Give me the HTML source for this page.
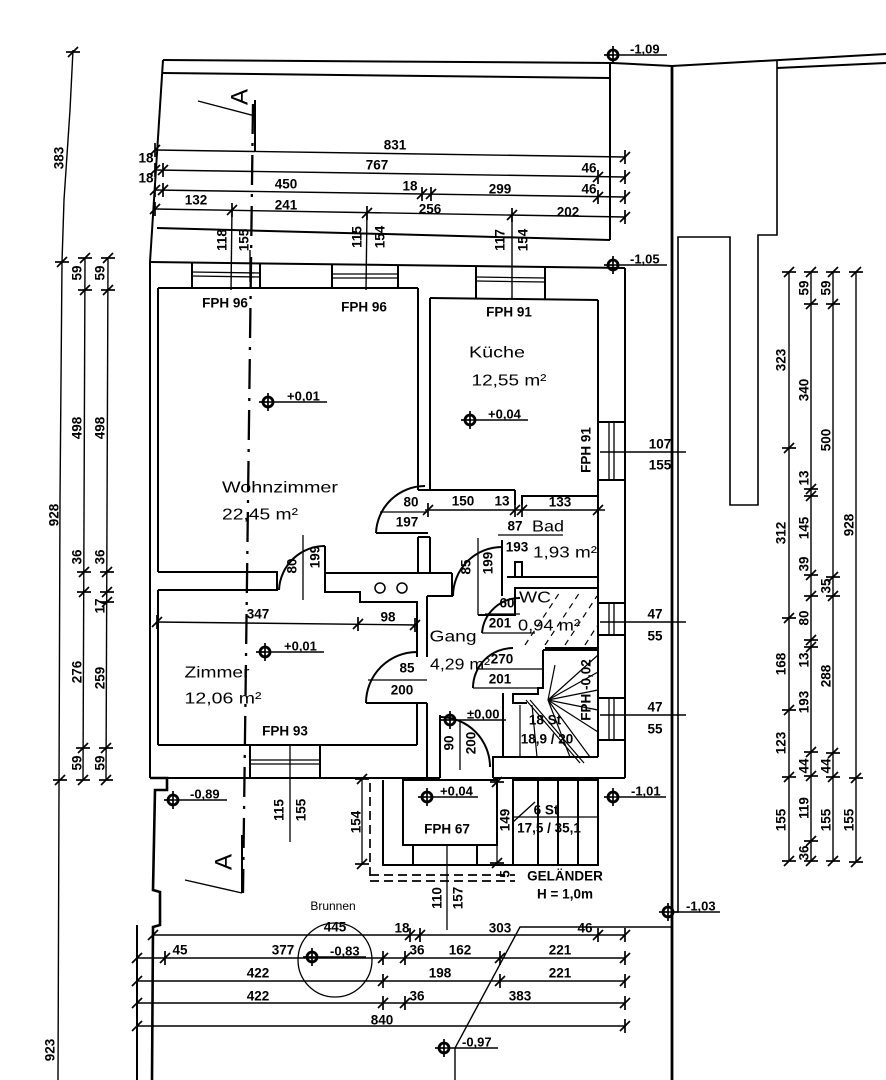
<!DOCTYPE html>
<html><head><meta charset="utf-8">
<style>
html,body{margin:0;padding:0;background:#fff;}
svg{display:block;}
text{font-family:"Liberation Sans",Arial,sans-serif;fill:#000;stroke:none;dominant-baseline:central;text-anchor:middle;}
.d{font-size:13.5px;font-weight:bold;}
.e{font-size:13px;font-weight:bold;text-anchor:start;}
.r{font-size:16px;}
.s{font-size:12px;}
</style></head><body>
<svg width="886" height="1080" viewBox="0 0 886 1080" xmlns="http://www.w3.org/2000/svg">
<rect width="886" height="1080" fill="#fff"/>
<defs>
<g id="tv" stroke="#000" stroke-width="1.7"><line x1="0" y1="-7" x2="0" y2="7"/><line x1="-5" y1="5" x2="5" y2="-5"/></g>
<g id="th" stroke="#000" stroke-width="1.7"><line x1="-7" y1="0" x2="7" y2="0"/><line x1="-5" y1="5" x2="5" y2="-5"/></g>
<g id="el" stroke="#000"><circle r="5" fill="none" stroke-width="2.8"/><line x1="0" y1="-9" x2="0" y2="9" stroke-width="1.7"/><line x1="-9" y1="0" x2="0" y2="0" stroke-width="1.7"/></g>
</defs>

<g fill="none" stroke="#000" stroke-width="2">
<!-- plot / surroundings -->
<polyline points="163,60 613,63 672,66 886,54"/>
<line x1="163" y1="60" x2="150" y2="262"/>
<line x1="163" y1="73" x2="610" y2="78"/>
<line x1="610" y1="63" x2="610" y2="240"/>
<line x1="157" y1="228" x2="610" y2="240"/>
<line x1="672" y1="66" x2="672" y2="1080" stroke-width="2.8"/>
<polyline points="673,912 678,912 678,237 730,237 730,505 758,505 758,235 777,235 777,60" stroke-width="1.6"/>
<line x1="777" y1="68" x2="886" y2="63"/>
<polyline points="150,778 167,778 167,790 155,790 153,890 160,892 160,925 153,927 152,1080" stroke-width="2.6"/>
<line x1="137" y1="925" x2="137" y2="1080"/>
<polyline points="672,927 520,927 455,1048 455,1080" stroke-width="1.4"/>

<!-- building outer -->
<line x1="150" y1="262" x2="625" y2="268"/>
<line x1="150" y1="262" x2="150" y2="778"/>
<line x1="625" y1="268" x2="625" y2="778"/>
<line x1="150" y1="778" x2="440" y2="778"/>
<line x1="493" y1="778" x2="625" y2="778"/>
<!-- top wall inner and window openings -->
<line x1="158" y1="288" x2="418" y2="288"/>
<line x1="430" y1="298" x2="598" y2="300"/>
<line x1="192" y1="263" x2="192" y2="288"/><line x1="260" y1="264" x2="260" y2="288"/>
<line x1="332" y1="265" x2="332" y2="288"/><line x1="398" y1="265" x2="398" y2="288"/>
<line x1="476" y1="266" x2="476" y2="299"/><line x1="545" y1="267" x2="545" y2="300"/>
<g stroke-width="1.3">
<line x1="192" y1="272" x2="260" y2="273"/><line x1="192" y1="276" x2="260" y2="277"/>
<line x1="332" y1="274" x2="398" y2="274"/><line x1="332" y1="278" x2="398" y2="278"/>
<line x1="476" y1="277" x2="545" y2="278"/><line x1="476" y1="281" x2="545" y2="282"/>
</g>
<!-- left inner wall -->
<line x1="158" y1="288" x2="158" y2="572"/>
<line x1="158" y1="590" x2="158" y2="745"/>
<!-- Wohnzimmer / Kueche wall -->
<line x1="418" y1="288" x2="418" y2="490"/>
<line x1="430" y1="298" x2="430" y2="490"/>
<line x1="418" y1="490" x2="430" y2="490"/>
<line x1="418" y1="537" x2="430" y2="537"/>
<line x1="418" y1="537" x2="418" y2="573"/>
<line x1="430" y1="537" x2="430" y2="573"/>
<!-- door 80/197 -->
<path d="M376,533 A49,49 0 0 1 425,486"/>
<line x1="376" y1="533" x2="428" y2="533"/>
<line x1="380" y1="512" x2="428" y2="512" stroke-width="1.3"/>
<!-- Wohnzimmer bottom wall + door -->
<polyline points="158,572 277,572 277,590 158,590"/>
<path d="M279,590 A46,46 0 0 1 325,546"/>
<line x1="325" y1="546" x2="325" y2="573"/>
<polyline points="325,573 452,573"/>
<polyline points="325,573 325,592 360,592 360,602 417,602 417,657"/>
<circle cx="380" cy="588" r="5" stroke-width="1.5"/>
<circle cx="402" cy="588" r="5" stroke-width="1.5"/>
<line x1="303" y1="535" x2="303" y2="600" stroke-width="1.3"/>
<!-- Zimmer -->
<line x1="158" y1="745" x2="417" y2="745"/>
<line x1="417" y1="703" x2="417" y2="745"/>
<line x1="250" y1="745" x2="250" y2="778"/><line x1="320" y1="745" x2="320" y2="778"/>
<line x1="250" y1="760" x2="320" y2="760" stroke-width="1.3"/><line x1="250" y1="764" x2="320" y2="764" stroke-width="1.3"/>
<line x1="290" y1="745" x2="290" y2="842" stroke-width="1.3"/>
<!-- door 85/200 Zimmer -->
<path d="M366,703 A51,51 0 0 1 417,652"/>
<line x1="366" y1="703" x2="427" y2="703"/>
<line x1="368" y1="680" x2="427" y2="680" stroke-width="1.3"/>
<!-- Gang -->
<line x1="427" y1="596" x2="427" y2="657"/>
<line x1="427" y1="703" x2="427" y2="778"/>
<line x1="427" y1="596" x2="453" y2="596"/>
<line x1="452" y1="573" x2="452" y2="596"/>
<!-- door to Bad 85/199 -->
<path d="M453,596 A49,49 0 0 1 502,547"/>
<line x1="502" y1="540" x2="502" y2="596"/>
<line x1="478" y1="538" x2="478" y2="615" stroke-width="1.3"/>
<!-- Kueche bottom / Bad -->
<line x1="430" y1="490" x2="515" y2="490"/>
<line x1="515" y1="490" x2="515" y2="505"/>
<polyline points="522,505 522,496 598,496"/>
<line x1="598" y1="300" x2="598" y2="757"/>
<line x1="598" y1="422" x2="625" y2="422"/><line x1="598" y1="480" x2="625" y2="480"/>
<line x1="609" y1="422" x2="609" y2="480" stroke-width="1.3"/><line x1="614" y1="422" x2="614" y2="480" stroke-width="1.3"/>
<line x1="498" y1="535" x2="563" y2="535" stroke-width="1.3"/>
<polyline points="507,577 598,577"/>
<polyline points="515,577 515,562 522,562 522,577"/>
<!-- right windows -->
<line x1="598" y1="603" x2="625" y2="603"/><line x1="598" y1="635" x2="625" y2="635"/>
<line x1="609" y1="603" x2="609" y2="635" stroke-width="1.3"/><line x1="614" y1="603" x2="614" y2="635" stroke-width="1.3"/>
<line x1="598" y1="698" x2="625" y2="698"/><line x1="598" y1="740" x2="625" y2="740"/>
<line x1="609" y1="698" x2="609" y2="740" stroke-width="1.3"/><line x1="614" y1="698" x2="614" y2="740" stroke-width="1.3"/>
<!-- WC -->
<polyline points="478,615 515,615 515,588 598,588"/>
<line x1="545" y1="648" x2="598" y2="648"/>
<path d="M482,633 A38,38 0 0 1 520,598"/>
<line x1="482" y1="633" x2="535" y2="633" stroke-width="1.3"/>
<line x1="485" y1="614" x2="520" y2="614" stroke-width="1.3"/>
<g stroke-width="1.2" stroke-dasharray="6 5">
<line x1="525" y1="645" x2="560" y2="592"/><line x1="545" y1="645" x2="580" y2="592"/>
<line x1="565" y1="645" x2="597" y2="596"/><line x1="585" y1="645" x2="597" y2="626"/>
</g>
<!-- stairs internal -->
<polyline points="543,650 598,650"/>
<polyline points="543,650 543,688 538,688 538,694 513,694 513,703 527,703"/>
<path d="M473,688 A40,40 0 0 1 513,648"/>
<line x1="473" y1="688" x2="538" y2="688" stroke-width="1.3"/>
<line x1="478" y1="669" x2="543" y2="669" stroke-width="1.3"/>
<g stroke-width="1.2">
<line x1="548" y1="700" x2="598" y2="655"/><line x1="548" y1="700" x2="598" y2="672"/>
<line x1="548" y1="700" x2="598" y2="690"/><line x1="548" y1="700" x2="598" y2="710"/>
<line x1="548" y1="700" x2="598" y2="732"/><line x1="548" y1="700" x2="590" y2="757"/>
<line x1="548" y1="700" x2="570" y2="757"/><line x1="548" y1="700" x2="555" y2="665"/>
<line x1="520" y1="705" x2="520" y2="757"/><line x1="532" y1="705" x2="537" y2="757"/>
<line x1="526" y1="700" x2="580" y2="763"/><line x1="530" y1="700" x2="584" y2="763"/>
</g>
<line x1="503" y1="693" x2="503" y2="757"/>
<polyline points="493,778 493,757 598,757"/>
<!-- entrance door 90/200 -->
<line x1="440" y1="715" x2="440" y2="778"/>
<path d="M440,717 A50,50 0 0 1 490,767"/>
<line x1="460" y1="720" x2="460" y2="770" stroke-width="1.3"/>
<!-- vestibule & outer stair -->
<rect x="403" y="780" width="94" height="65"/>
<line x1="413" y1="845" x2="413" y2="865"/><line x1="477" y1="845" x2="477" y2="865"/>
<line x1="447" y1="845" x2="447" y2="930" stroke-width="1.3"/>
<polyline points="383,780 383,865 513,865"/>
<rect x="513" y="780" width="85" height="85"/>
<line x1="538" y1="780" x2="538" y2="865"/><line x1="558" y1="780" x2="558" y2="865"/><line x1="578" y1="780" x2="578" y2="865"/>
<line x1="513" y1="817" x2="598" y2="817" stroke-width="1.3"/>
<line x1="513" y1="822" x2="535" y2="802" stroke-width="1.3"/>
<line x1="497" y1="780" x2="497" y2="865" stroke-width="1.3"/>
<g stroke-width="1.7" stroke-dasharray="9 5">
<line x1="370" y1="783" x2="370" y2="881"/>
<line x1="370" y1="875" x2="515" y2="875"/><line x1="370" y1="881" x2="515" y2="881"/>
</g>
<line x1="362" y1="778" x2="362" y2="865" stroke-width="1.3"/>

<!-- section line A-A -->
<polyline points="253,104 247,580 243,893" stroke-width="2.3" stroke-dasharray="30 9 3 9"/>
<line x1="198" y1="101" x2="255" y2="116" stroke-width="1.4"/>
<line x1="255" y1="100" x2="255" y2="152"/>
<line x1="185" y1="880" x2="242" y2="893" stroke-width="1.4"/>
<line x1="242" y1="835" x2="242" y2="893"/>

<!-- Brunnen -->
<circle cx="335" cy="960" r="37" stroke-width="1.3"/>
</g>

<!-- dimension lines -->
<g fill="none" stroke="#000" stroke-width="1.4">
<line x1="155" y1="150" x2="625" y2="157"/>
<line x1="155" y1="170" x2="625" y2="177"/>
<line x1="155" y1="190" x2="625" y2="197"/>
<line x1="155" y1="209" x2="625" y2="217"/>
<line x1="232" y1="209" x2="231" y2="290"/>
<line x1="367" y1="211" x2="366" y2="290"/>
<line x1="512" y1="214" x2="512" y2="300"/>
<line x1="250" y1="250" x2="250" y2="282"/>
<!-- left -->
<polyline points="73,50 70,110 64,200 62,262 60,500 58,1080"/>
<line x1="85" y1="258" x2="83" y2="780"/>
<line x1="108" y1="258" x2="106" y2="780"/>
<!-- right -->
<line x1="789" y1="272" x2="789" y2="861"/>
<line x1="811" y1="272" x2="811" y2="861"/>
<line x1="833" y1="272" x2="833" y2="861"/>
<line x1="856" y1="272" x2="856" y2="862"/>
<line x1="600" y1="452" x2="686" y2="452"/>
<line x1="600" y1="622" x2="686" y2="622"/>
<line x1="600" y1="715" x2="686" y2="715"/>
<!-- bottom -->
<line x1="153" y1="935" x2="625" y2="935"/>
<line x1="137" y1="958" x2="625" y2="958"/>
<line x1="137" y1="981" x2="625" y2="981"/>
<line x1="137" y1="1003" x2="625" y2="1003"/>
<line x1="137" y1="1026" x2="625" y2="1026"/>
<line x1="157" y1="622" x2="417" y2="625"/>
<line x1="425" y1="510" x2="605" y2="510"/>
</g>

<!-- ticks -->
<g>
<use href="#tv" x="155" y="150"/><use href="#tv" x="625" y="157"/>
<use href="#tv" x="155" y="170"/><use href="#tv" x="163" y="170"/><use href="#tv" x="598" y="177"/><use href="#tv" x="625" y="177"/>
<use href="#tv" x="155" y="190"/><use href="#tv" x="163" y="190"/><use href="#tv" x="422" y="194"/><use href="#tv" x="431" y="194"/><use href="#tv" x="598" y="197"/><use href="#tv" x="625" y="197"/>
<use href="#tv" x="155" y="209"/><use href="#tv" x="232" y="210"/><use href="#tv" x="367" y="213"/><use href="#tv" x="512" y="215"/><use href="#tv" x="625" y="217"/>
<use href="#th" x="73" y="52"/><use href="#th" x="62" y="262"/><use href="#th" x="60" y="780"/>
<use href="#th" x="85" y="258"/><use href="#th" x="85" y="290"/><use href="#th" x="84" y="572"/><use href="#th" x="84" y="592"/><use href="#th" x="83" y="748"/><use href="#th" x="83" y="780"/>
<use href="#th" x="108" y="258"/><use href="#th" x="108" y="290"/><use href="#th" x="107" y="572"/><use href="#th" x="107" y="592"/><use href="#th" x="107" y="602"/><use href="#th" x="106" y="748"/><use href="#th" x="106" y="780"/>
<use href="#th" x="789" y="272"/><use href="#th" x="789" y="448"/><use href="#th" x="789" y="618"/><use href="#th" x="789" y="710"/><use href="#th" x="789" y="777"/><use href="#th" x="789" y="861"/>
<use href="#th" x="811" y="272"/><use href="#th" x="811" y="304"/><use href="#th" x="811" y="489"/><use href="#th" x="811" y="496"/><use href="#th" x="811" y="575"/><use href="#th" x="811" y="596"/><use href="#th" x="811" y="640"/><use href="#th" x="811" y="647"/><use href="#th" x="811" y="752"/><use href="#th" x="811" y="776"/><use href="#th" x="811" y="841"/><use href="#th" x="811" y="861"/>
<use href="#th" x="833" y="272"/><use href="#th" x="833" y="304"/><use href="#th" x="833" y="577"/><use href="#th" x="833" y="596"/><use href="#th" x="833" y="753"/><use href="#th" x="833" y="777"/><use href="#th" x="833" y="861"/>
<use href="#th" x="856" y="272"/><use href="#th" x="856" y="778"/><use href="#th" x="856" y="862"/>
<use href="#tv" x="153" y="935"/><use href="#tv" x="410" y="935"/><use href="#tv" x="420" y="935"/><use href="#tv" x="598" y="935"/><use href="#tv" x="625" y="935"/>
<use href="#tv" x="137" y="958"/><use href="#tv" x="165" y="958"/><use href="#tv" x="383" y="958"/><use href="#tv" x="405" y="958"/><use href="#tv" x="500" y="958"/><use href="#tv" x="625" y="958"/>
<use href="#tv" x="137" y="981"/><use href="#tv" x="383" y="981"/><use href="#tv" x="500" y="981"/><use href="#tv" x="625" y="981"/>
<use href="#tv" x="137" y="1003"/><use href="#tv" x="383" y="1003"/><use href="#tv" x="405" y="1003"/><use href="#tv" x="625" y="1003"/>
<use href="#tv" x="137" y="1026"/><use href="#tv" x="625" y="1026"/>
<use href="#tv" x="157" y="622"/><use href="#tv" x="358" y="624"/><use href="#tv" x="415" y="625"/>
<use href="#tv" x="428" y="510"/><use href="#tv" x="515" y="510"/><use href="#tv" x="522" y="510"/><use href="#tv" x="598" y="510"/>
<use href="#th" x="362" y="779"/><use href="#th" x="362" y="864"/>
<use href="#th" x="497" y="782"/><use href="#th" x="497" y="863"/>
</g>

<!-- elevation markers -->
<g stroke="#000" stroke-width="1.5">
<use href="#el" x="613" y="55"/><line x1="613" y1="55" x2="667" y2="55"/>
<use href="#el" x="613" y="265"/><line x1="613" y1="265" x2="667" y2="265"/>
<use href="#el" x="268" y="402"/><line x1="268" y1="402" x2="327" y2="402"/>
<use href="#el" x="470" y="420"/><line x1="470" y1="420" x2="528" y2="420"/>
<use href="#el" x="265" y="652"/><line x1="265" y1="652" x2="324" y2="652"/>
<use href="#el" x="173" y="800"/><line x1="173" y1="800" x2="227" y2="800"/>
<use href="#el" x="427" y="797"/><line x1="427" y1="797" x2="478" y2="797"/>
<use href="#el" x="450" y="720"/><line x1="450" y1="720" x2="506" y2="720"/>
<use href="#el" x="613" y="797"/><line x1="613" y1="797" x2="666" y2="797"/>
<use href="#el" x="668" y="912"/><line x1="668" y1="912" x2="720" y2="912"/>
<use href="#el" x="312" y="957"/><line x1="312" y1="957" x2="366" y2="957"/>
<use href="#el" x="444" y="1048"/><line x1="444" y1="1048" x2="498" y2="1048"/>
</g>
<g class="e">
<text class="e" x="630" y="49">-1,09</text>
<text class="e" x="630" y="259">-1,05</text>
<text class="e" x="287" y="396">+0,01</text>
<text class="e" x="488" y="414">+0,04</text>
<text class="e" x="284" y="646">+0,01</text>
<text class="e" x="190" y="794">-0,89</text>
<text class="e" x="440" y="791">+0,04</text>
<text class="e" x="467" y="714">±0,00</text>
<text class="e" x="631" y="791">-1,01</text>
<text class="e" x="686" y="906">-1,03</text>
<text class="e" x="330" y="951">-0,83</text>
<text class="e" x="462" y="1042">-0,97</text>
</g>

<!-- dimension labels -->
<g class="d">
<text class="d" x="395" y="145">831</text>
<text class="d" x="146" y="158">18</text><text class="d" x="377" y="165">767</text><text class="d" x="589" y="168">46</text>
<text class="d" x="146" y="178">18</text><text class="d" x="286" y="184">450</text><text class="d" x="410" y="186">18</text><text class="d" x="500" y="189">299</text><text class="d" x="589" y="189">46</text>
<text class="d" x="196" y="200">132</text><text class="d" x="286" y="205">241</text><text class="d" x="430" y="209">256</text><text class="d" x="568" y="212">202</text>

<text class="d" transform="translate(222,240) rotate(-90)">118</text>
<text class="d" transform="translate(244,240) rotate(-90)">155</text>
<text class="d" transform="translate(357,237) rotate(-90)">115</text>
<text class="d" transform="translate(380,237) rotate(-90)">154</text>
<text class="d" transform="translate(500,240) rotate(-90)">117</text>
<text class="d" transform="translate(523,240) rotate(-90)">154</text>

<text class="d" transform="translate(59,158) rotate(-90)">383</text>
<text class="d" transform="translate(54,515) rotate(-90)">928</text>
<text class="d" transform="translate(50,1050) rotate(-90)">923</text>
<text class="d" transform="translate(77,273) rotate(-90)">59</text>
<text class="d" transform="translate(77,428) rotate(-90)">498</text>
<text class="d" transform="translate(77,557) rotate(-90)">36</text>
<text class="d" transform="translate(77,672) rotate(-90)">276</text>
<text class="d" transform="translate(77,763) rotate(-90)">59</text>
<text class="d" transform="translate(100,273) rotate(-90)">59</text>
<text class="d" transform="translate(100,428) rotate(-90)">498</text>
<text class="d" transform="translate(100,557) rotate(-90)">36</text>
<text class="d" transform="translate(100,606) rotate(-90)">17</text>
<text class="d" transform="translate(100,678) rotate(-90)">259</text>
<text class="d" transform="translate(100,763) rotate(-90)">59</text>

<text class="d" transform="translate(781,360) rotate(-90)">323</text>
<text class="d" transform="translate(781,533) rotate(-90)">312</text>
<text class="d" transform="translate(781,664) rotate(-90)">168</text>
<text class="d" transform="translate(781,743) rotate(-90)">123</text>
<text class="d" transform="translate(781,820) rotate(-90)">155</text>
<text class="d" transform="translate(804,288) rotate(-90)">59</text>
<text class="d" transform="translate(804,390) rotate(-90)">340</text>
<text class="d" transform="translate(804,478) rotate(-90)">13</text>
<text class="d" transform="translate(804,528) rotate(-90)">145</text>
<text class="d" transform="translate(804,564) rotate(-90)">39</text>
<text class="d" transform="translate(804,618) rotate(-90)">80</text>
<text class="d" transform="translate(804,660) rotate(-90)">13</text>
<text class="d" transform="translate(804,702) rotate(-90)">193</text>
<text class="d" transform="translate(804,766) rotate(-90)">44</text>
<text class="d" transform="translate(804,808) rotate(-90)">119</text>
<text class="d" transform="translate(804,853) rotate(-90)">36</text>
<text class="d" transform="translate(826,288) rotate(-90)">59</text>
<text class="d" transform="translate(826,440) rotate(-90)">500</text>
<text class="d" transform="translate(826,586) rotate(-90)">35</text>
<text class="d" transform="translate(826,676) rotate(-90)">288</text>
<text class="d" transform="translate(826,766) rotate(-90)">44</text>
<text class="d" transform="translate(826,820) rotate(-90)">155</text>
<text class="d" transform="translate(849,525) rotate(-90)">928</text>
<text class="d" transform="translate(849,820) rotate(-90)">155</text>

<text class="d" x="660" y="444">107</text><text class="d" x="660" y="465">155</text>
<text class="d" x="655" y="614">47</text><text class="d" x="655" y="636">55</text>
<text class="d" x="655" y="707">47</text><text class="d" x="655" y="729">55</text>

<text class="d" x="335" y="927">445</text><text class="d" x="402" y="928">18</text><text class="d" x="500" y="928">303</text><text class="d" x="585" y="928">46</text>
<text class="d" x="180" y="950">45</text><text class="d" x="283" y="950">377</text><text class="d" x="417" y="950">36</text><text class="d" x="460" y="950">162</text><text class="d" x="560" y="950">221</text>
<text class="d" x="258" y="973">422</text><text class="d" x="440" y="973">198</text><text class="d" x="560" y="973">221</text>
<text class="d" x="258" y="996">422</text><text class="d" x="417" y="996">36</text><text class="d" x="520" y="996">383</text>
<text class="d" x="382" y="1020">840</text>

<!-- door labels etc -->
<text class="d" x="411" y="502">80</text><text class="d" x="407" y="522">197</text>
<text class="d" x="463" y="501">150</text><text class="d" x="502" y="501">13</text><text class="d" x="560" y="502">133</text>
<text class="d" x="515" y="526">87</text><text class="d" x="517" y="547">193</text>
<text class="d" transform="translate(292,566) rotate(-90)">80</text>
<text class="d" transform="translate(315,557) rotate(-90)">199</text>
<text class="d" transform="translate(466,567) rotate(-90)">85</text>
<text class="d" transform="translate(488,563) rotate(-90)">199</text>
<text class="d" x="258" y="614">347</text><text class="d" x="388" y="617">98</text>
<text class="d" x="407" y="668">85</text><text class="d" x="402" y="690">200</text>
<text class="d" x="507" y="603">60</text><text class="d" x="500" y="623">201</text>
<text class="d" x="502" y="659">270</text><text class="d" x="500" y="679">201</text>
<text class="d" transform="translate(449,743) rotate(-90)">90</text>
<text class="d" transform="translate(471,743) rotate(-90)">200</text>
<text class="d" transform="translate(279,810) rotate(-90)">115</text>
<text class="d" transform="translate(301,810) rotate(-90)">155</text>
<text class="d" transform="translate(356,822) rotate(-90)">154</text>
<text class="d" transform="translate(505,820) rotate(-90)">149</text>
<text class="d" transform="translate(505,874) rotate(-90)">5</text>
<text class="d" transform="translate(437,898) rotate(-90)">110</text>
<text class="d" transform="translate(458,898) rotate(-90)">157</text>
<text class="d" x="546" y="810">6 St</text>
<text class="d" x="549" y="828">17,5 / 35,1</text>
<text class="d" x="545" y="720">18 St</text>
<text class="d" x="547" y="739">18,9 / 20</text>
<text class="d" x="565" y="876">GELÄNDER</text>
<text class="d" x="565" y="894">H = 1,0m</text>

<text class="d" x="225" y="303">FPH 96</text>
<text class="d" x="364" y="307">FPH 96</text>
<text class="d" x="509" y="312">FPH 91</text>
<text class="d" x="285" y="731">FPH 93</text>
<text class="d" x="447" y="829">FPH 67</text>
<text class="d" transform="translate(586,450) rotate(-90)">FPH 91</text>
<text class="d" transform="translate(586,690) rotate(-90)">FPH -0,02</text>
</g>

<!-- room labels -->
<g>
<text class="r" x="280" y="488" textLength="116" lengthAdjust="spacingAndGlyphs">Wohnzimmer</text>
<text class="r" x="260" y="515" textLength="76" lengthAdjust="spacingAndGlyphs">22,45 m²</text>
<text class="r" x="497" y="353" textLength="56" lengthAdjust="spacingAndGlyphs">Küche</text>
<text class="r" x="509" y="381" textLength="75" lengthAdjust="spacingAndGlyphs">12,55 m²</text>
<text class="r" x="217" y="673" textLength="65" lengthAdjust="spacingAndGlyphs">Zimmer</text>
<text class="r" x="223" y="699" textLength="77" lengthAdjust="spacingAndGlyphs">12,06 m²</text>
<text class="r" x="453" y="637" textLength="47" lengthAdjust="spacingAndGlyphs">Gang</text>
<text class="r" x="460" y="665" textLength="60" lengthAdjust="spacingAndGlyphs">4,29 m²</text>
<text class="r" x="548" y="527" textLength="32" lengthAdjust="spacingAndGlyphs">Bad</text>
<text class="r" x="565" y="553" textLength="64" lengthAdjust="spacingAndGlyphs">1,93 m²</text>
<text class="r" x="535" y="598" textLength="32" lengthAdjust="spacingAndGlyphs">WC</text>
<text class="r" x="549" y="626" textLength="62" lengthAdjust="spacingAndGlyphs">0,94 m²</text>
<text class="s" x="333" y="906">Brunnen</text>
<text style="font-size:24px" transform="translate(240,97) rotate(-90)">A</text>
<text style="font-size:24px" transform="translate(224,862) rotate(-90)">A</text>
</g>
</svg>
</body></html>
